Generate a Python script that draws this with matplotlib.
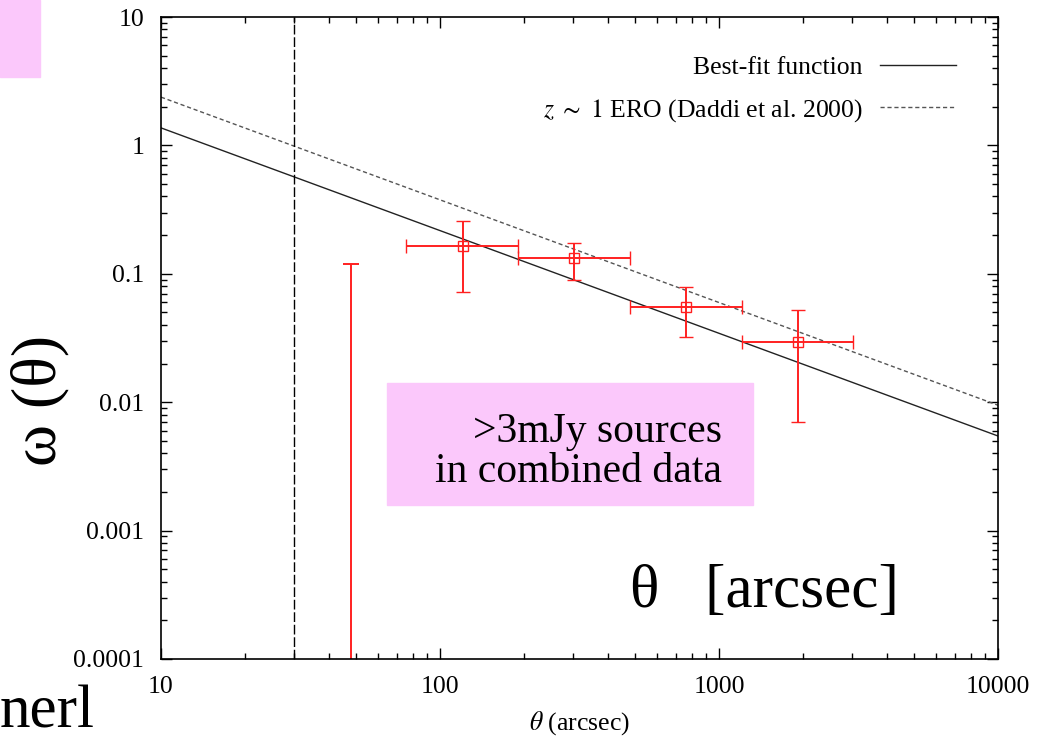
import matplotlib
matplotlib.use('Agg')
import matplotlib.pyplot as plt
import matplotlib.patches as patches
import numpy as np

plt.rcParams['font.family'] = ['Liberation Serif', 'DejaVu Serif']
plt.rcParams['mathtext.fontset'] = 'stix'

# measured clustering points (theta in arcsec, omega)
theta = [121, 303, 759, 1914]
theta_lo = [75.5, 191, 480, 1213]
theta_hi = [191, 480, 1213, 3013]
omega = [0.166, 0.132, 0.0554, 0.0296]
omega_lo = [0.0726, 0.0895, 0.032, 0.00705]
omega_hi = [0.259, 0.173, 0.0785, 0.0523]

# smallest-bin point: only an upper error reaching 0.12
theta_first = [48]
omega_first_top = [0.12]

# power laws A * theta^-0.8
slope = -0.8
amp_fit = 8.64
amp_daddi = 15.0
theta_cut = 30

fig = plt.figure(figsize=(10.38, 7.43), dpi=100)
ax = fig.add_axes([0.1551, 0.1131, 0.8064, 0.8640])
ax.set_xscale('log')
ax.set_yscale('log')
ax.set_xlim(10, 10000)
ax.set_ylim(1e-4, 10)

xx = np.logspace(1, 4, 50)
ax.plot(xx, amp_fit * xx ** slope, color='#222222', lw=1.0, label='Best-fit function')
ax.plot(xx, amp_daddi * xx ** slope, color='#555555', lw=1.0, ls=(0, (3, 2)),
        label=r'$z\ \sim\ 1$ ERO (Daddi et al. 2000)')

ax.axvline(theta_cut, color='black', lw=1.0, ls=(0, (7, 2)))

red = '#ff2020'
th = np.array(theta)
om = np.array(omega)
xerr = [th - np.array(theta_lo), np.array(theta_hi) - th]
yerr = [om - np.array(omega_lo), np.array(omega_hi) - om]
ax.errorbar(th, om, xerr=xerr, yerr=yerr, fmt='s', mfc='none', mec=red, ms=7,
            mew=1.0, ecolor=red, elinewidth=1.4, capsize=5, capthick=1.4)
ax.errorbar(theta_first, omega_first_top,
            yerr=[[omega_first_top[0] - 1e-6], [0]], fmt='none',
            ecolor=red, elinewidth=1.4, capsize=6, capthick=1.4)

ax.set_xticks([10, 100, 1000, 10000])
ax.set_xticklabels(['10', '100', '1000', '10000'])
ax.set_yticks([1e-4, 1e-3, 1e-2, 0.1, 1, 10])
ax.set_yticklabels(['0.0001', '0.001', '0.01', '0.1', '1', '10'])
ax.tick_params(which='both', direction='in', top=True, right=True, labelsize=18.5,
               width=1.0)
ax.tick_params(which='major', length=8, pad=12)
ax.tick_params(which='minor', length=4.5)
for s in ax.spines.values():
    s.set_linewidth(1.2)

ax.set_xlabel(r'$\theta$ (arcsec)', fontsize=18.5, labelpad=8)

leg = ax.legend(loc='upper right', bbox_to_anchor=(0.962, 0.9556), frameon=False,
                markerfirst=False, fontsize=18.5, handlelength=2.96,
                labelspacing=0.7, borderaxespad=0, handletextpad=0.66)

# slide overlays
pink = '#fbc8fb'
fig.patches.append(patches.Rectangle((0, 1 - 77 / 743), 40 / 1038, 77 / 743,
                                     transform=fig.transFigure, color=pink, zorder=0))
fig.patches.append(patches.Rectangle((387 / 1038, 1 - 505 / 743), 366 / 1038, 122 / 743,
                                     transform=fig.transFigure, color=pink, zorder=5))
fig.text(722 / 1038, 1 - 442 / 743, '>3mJy sources', fontsize=30, ha='right',
         va='baseline', zorder=6)
fig.text(722 / 1038, 1 - 482 / 743, 'in combined data', fontsize=30, ha='right',
         va='baseline', zorder=6)
fig.text(630 / 1038, 1 - 607 / 743, 'θ   [arcsec]', fontsize=44, ha='left', va='baseline')
fig.text(40 / 1038, 1 - 400 / 743, 'ω (θ)', fontsize=46, rotation=90, ha='center',
         va='center')
fig.text(0, 1 - 727 / 743, 'nerl', fontsize=44, ha='left', va='baseline')

fig.savefig('out.png', dpi=100)
